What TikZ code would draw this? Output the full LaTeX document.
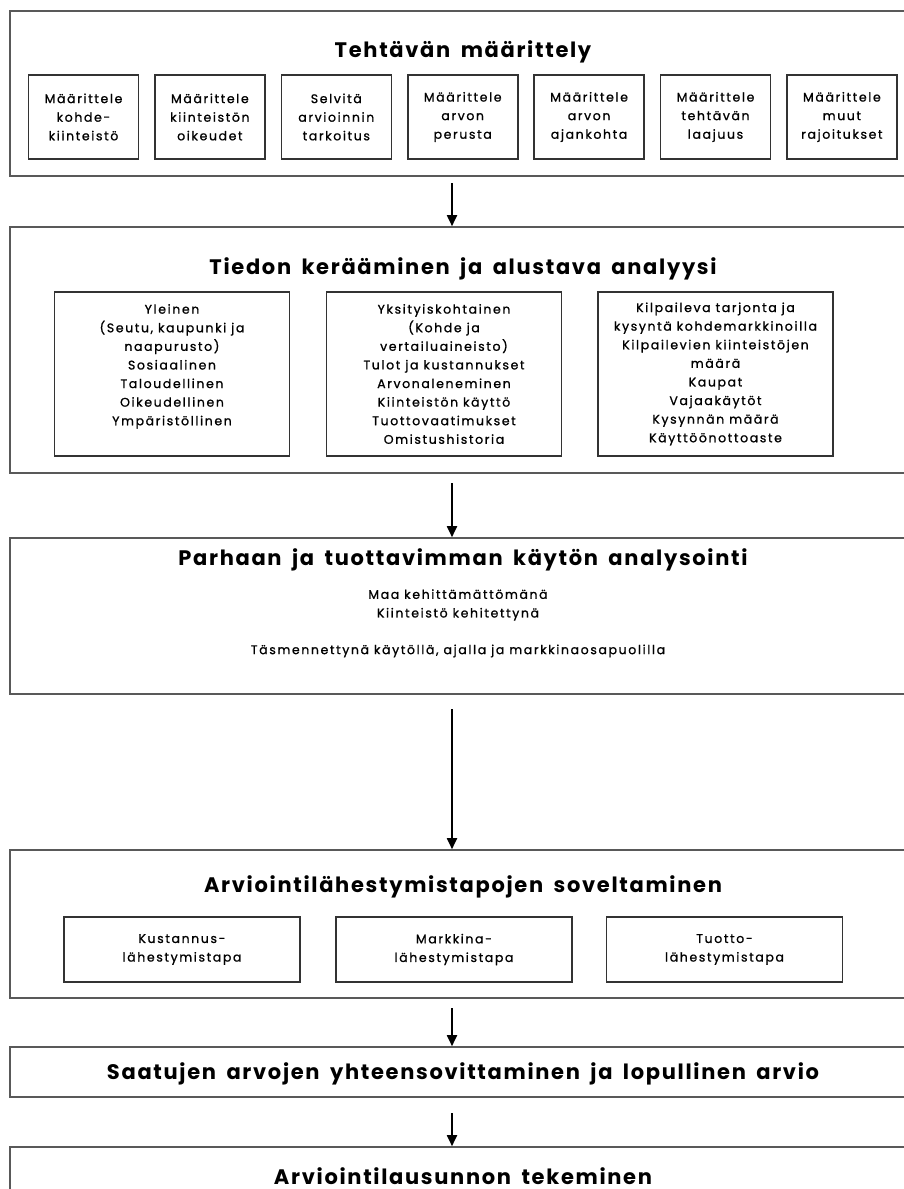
\documentclass[tikz,border=0pt]{standalone}
\usepackage{fontspec}
\setmainfont{Poppins}[LetterSpace=8, WordSpace=1.7]
\newfontfamily\smallfont{Poppins}[LetterSpace=13, FakeBold=1]
\usetikzlibrary{arrows.meta}

\begin{document}
\begin{tikzpicture}[
    x=1pt, y=-1pt,
    outer/.style={draw=black!65, line width=1.6pt, minimum width=906pt},
    inbox/.style={draw=black!80, line width=1.6pt, align=center, font=\smallfont\fontsize{12.5}{18.6}\selectfont},
    title/.style={anchor=base, font=\fontsize{21}{24}\selectfont\bfseries},
    txt/.style={align=center, font=\smallfont\fontsize{12.5}{18.6}\selectfont},
    arr/.style={->, line width=1.8pt},
    >={Triangle[length=11pt, width=10pt]}
]
    \useasboundingbox (0,0) rectangle (904,1189);

    % 1. Tehtävän määrittely
    \node[outer, minimum height=165pt] (B1) at (463,93.5) {};
    \node[title] (T1) at (463,57) {Tehtävän määrittely};
    \foreach \i/\txt in {0/{Määrittele\\kohde-\\kiinteistö},
                         1/{Määrittele\\kiinteistön\\oikeudet},
                         2/{Selvitä\\arvioinnin\\tarkoitus},
                         3/{Määrittele\\arvon\\perusta},
                         4/{Määrittele\\arvon\\ajankohta},
                         5/{Määrittele\\tehtävän\\laajuus},
                         6/{Määrittele\\muut\\rajoitukset}}
        \node[inbox, minimum width=110pt, minimum height=84pt] (m\i) at ({83.5+126.4*\i},117) {\txt};

    % 2. Tiedon kerääminen
    \node[outer, minimum height=246pt] (B2) at (463,350) {};
    \node[title] (T2) at (463,274) {Tiedon kerääminen ja alustava analyysi};
    \node[inbox, minimum width=235pt, minimum height=164pt] (y1) at (172,374)
        {Yleinen\\(Seutu, kaupunki ja\\naapurusto)\\Sosiaalinen\\Taloudellinen\\Oikeudellinen\\Ympäristöllinen\\{}};
    \node[inbox, minimum width=235pt, minimum height=164pt] (y2) at (444,374)
        {Yksityiskohtainen\\(Kohde ja\\vertailuaineisto)\\Tulot ja kustannukset\\Arvonaleneminen\\Kiinteistön käyttö\\Tuottovaatimukset\\Omistushistoria};
    \node[inbox, minimum width=235pt, minimum height=164pt] (y3) at (715.5,374)
        {Kilpaileva tarjonta ja\\kysyntä kohdemarkkinoilla\\Kilpailevien kiinteistöjen\\määrä\\Kaupat\\Vajaakäytöt\\Kysynnän määrä\\Käyttöönottoaste};

    % 3. Parhaan ja tuottavimman käytön analysointi
    \node[outer, minimum height=156pt] (B3) at (463,616) {};
    \node[title] (T3) at (463,565) {Parhaan ja tuottavimman käytön analysointi};
    \node[txt] (k1) at (458,605) {Maa kehittämättömänä\\Kiinteistö kehitettynä};
    \node[txt] (k2) at (458,651) {Täsmennettynä käytöllä, ajalla ja markkinaosapuolilla};

    % 4. Lähestymistavat
    \node[outer, minimum height=148pt] (B4) at (463,924) {};
    \node[title] (T4) at (463,892) {Arviointilähestymistapojen soveltaminen};
    \node[inbox, minimum width=236pt, minimum height=65pt] (l1) at (182,949.5) {Kustannus-\\lähestymistapa};
    \node[inbox, minimum width=236pt, minimum height=65pt] (l2) at (454,949.5) {Markkina-\\lähestymistapa};
    \node[inbox, minimum width=236pt, minimum height=65pt] (l3) at (724.5,949.5) {Tuotto-\\lähestymistapa};

    % 5. ja 6.
    \node[outer, minimum height=50pt] (B5) at (463,1072) {};
    \node[title] (T5) at (463,1079) {Saatujen arvojen yhteensovittaminen ja lopullinen arvio};
    \node[outer, minimum height=83pt] (B6) at (463,1188.5) {};
    \node[title, text depth=0pt] (T6) at (463,1184) {Arviointilausunnon tekeminen};

    % nuolet
    \coordinate (a1) at (452,183);
    \coordinate (a2) at (452,483);
    \coordinate (a3) at (452,709);
    \coordinate (a4) at (452,1008);
    \coordinate (a5) at (452,1113);
    \draw[arr] (a1) -- (a1 |- B2.north);
    \draw[arr] (a2) -- (a2 |- B3.north);
    \draw[arr] (a3) -- (a3 |- B4.north);
    \draw[arr] (a4) -- (a4 |- B5.north);
    \draw[arr] (a5) -- (a5 |- B6.north);
\end{tikzpicture}
\end{document}
